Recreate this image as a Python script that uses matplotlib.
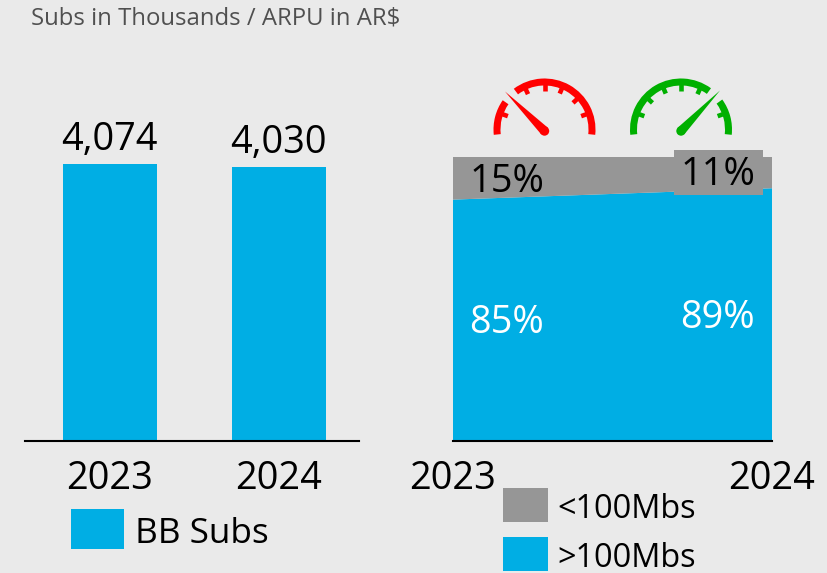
import numpy as np
import matplotlib
matplotlib.use("Agg")
import matplotlib.pyplot as plt
from matplotlib.patches import Wedge, Polygon, Rectangle, Circle

plt.rcParams["font.family"] = ["Open Sans", "DejaVu Sans"]

years = ["2023", "2024"]
subs = [4074, 4030]
subs_labels = ["4,074", "4,030"]
above_100 = [85, 89]
below_100 = [15, 11]

bg = "#EAEAEA"
blue = "#00AEE4"
grey = "#969696"

W, H = 827, 573
fig = plt.figure(figsize=(W / 100, H / 100), dpi=100, facecolor=bg)


def axes_px(x0, y0, x1, y1):
    # pixel box, y from the top
    ax = fig.add_axes([x0 / W, 1 - y1 / H, (x1 - x0) / W, (y1 - y0) / H])
    ax.set_facecolor("none")
    return ax


def year_ticks(ax):
    ax.spines[["top", "left", "right"]].set_visible(False)
    ax.spines["bottom"].set_linewidth(1.5)
    ax.set_yticks([])
    ax.set_xticks([0, 1])
    ax.set_xticklabels(years, fontsize=27.3, va="baseline")
    # 48px from the axis line down to the baseline of the years
    ax.tick_params(axis="x", length=0, pad=34.8)


# left bars
ax1 = axes_px(25, 60, 359, 441)
ax1.bar([0, 1], subs, width=0.556, color=blue)
ax1.set_xlim(-0.5, 1.476)
ax1.set_ylim(0, 4074 * 381 / 277)
year_ticks(ax1)
for i in range(2):
    ax1.annotate(subs_labels[i], (i, subs[i]), xytext=(0, 10.4), textcoords="offset points",
                 ha="center", va="baseline", fontsize=27.3, color="black")

# right stacked area
ax2 = axes_px(453, 157, 772, 441)
ax2.stackplot([0, 1], above_100, below_100, colors=[blue, grey], lw=0)
ax2.set_xlim(0, 1)
ax2.set_ylim(0, 100)
year_ticks(ax2)
# grey box behind the 2024 label
ax2.add_patch(Rectangle((0.693, 86.6), 0.278, 15.9, color=grey, lw=0, zorder=3, clip_on=False))
ax2.text(0.169, 87.8, f"{below_100[0]}%", ha="center", va="baseline", fontsize=27.3, color="black", zorder=4)
ax2.text(0.832, 90.1, f"{below_100[1]}%", ha="center", va="baseline", fontsize=27.3, color="black", zorder=4)
ax2.text(0.167, 38, f"{above_100[0]}%", ha="center", va="baseline", fontsize=27.3, color="white", zorder=4)
ax2.text(0.83, 39.8, f"{above_100[1]}%", ha="center", va="baseline", fontsize=27.3, color="white", zorder=4)

# overlay in pixels for gauges and legend
ov = fig.add_axes([0, 0, 1, 1], facecolor="none")
ov.set_xlim(0, W)
ov.set_ylim(H, 0)
ov.axis("off")


def gauge(cx, cy, color, gap, tip, tick_angles):
    r = 51
    # y axis is flipped, so the arc above the centre runs 174..366
    ov.add_patch(Wedge((cx, cy), r, 174, gap[0], width=7, color=color, lw=0))
    ov.add_patch(Wedge((cx, cy), r, gap[1], 366, width=7, color=color, lw=0))
    for d in tick_angles:
        a = np.radians(d)
        ov.plot([cx + (r - 12) * np.cos(a), cx + (r - 5) * np.cos(a)],
                [cy + (r - 12) * np.sin(a), cy + (r - 5) * np.sin(a)],
                color=color, lw=3.3, solid_capstyle="butt")
    # needle
    bx, by = cx, cy + 1.5
    a = np.arctan2(tip[1] - by, tip[0] - bx)
    n = (np.cos(a + np.pi / 2) * 4.7, np.sin(a + np.pi / 2) * 4.7)
    ov.add_patch(Polygon([tip, (bx + n[0], by + n[1]), (bx - n[0], by - n[1])], color=color, lw=0))
    ov.add_patch(Circle((bx, by), 4.7, color=color, lw=0))


gauge(544.5, 129.5, "#FF0000", (215, 233), (505, 91.5), [200, 245, 270, 293, 317, 340])
gauge(681, 129.5, "#00B000", (306, 324), (720, 90.5), [200, 223, 247, 270, 295, 340])

ov.add_patch(Rectangle((71, 509), 53, 40, color=blue, lw=0))
ov.text(135, 543, "BB Subs", fontsize=25.4, va="baseline", color="black")
ov.add_patch(Rectangle((503, 488), 45, 34, color=grey, lw=0))
ov.text(557, 518, "<100Mbs", fontsize=23.4, va="baseline", color="black")
ov.add_patch(Rectangle((503, 537), 45, 34, color=blue, lw=0))
ov.text(557, 567.3, ">100Mbs", fontsize=23.4, va="baseline", color="black")
ov.text(31, 25, "Subs in Thousands / ARPU in AR$", fontsize=17.2, va="baseline", color="#505050")

fig.savefig("out.png", dpi=100, facecolor=bg)
